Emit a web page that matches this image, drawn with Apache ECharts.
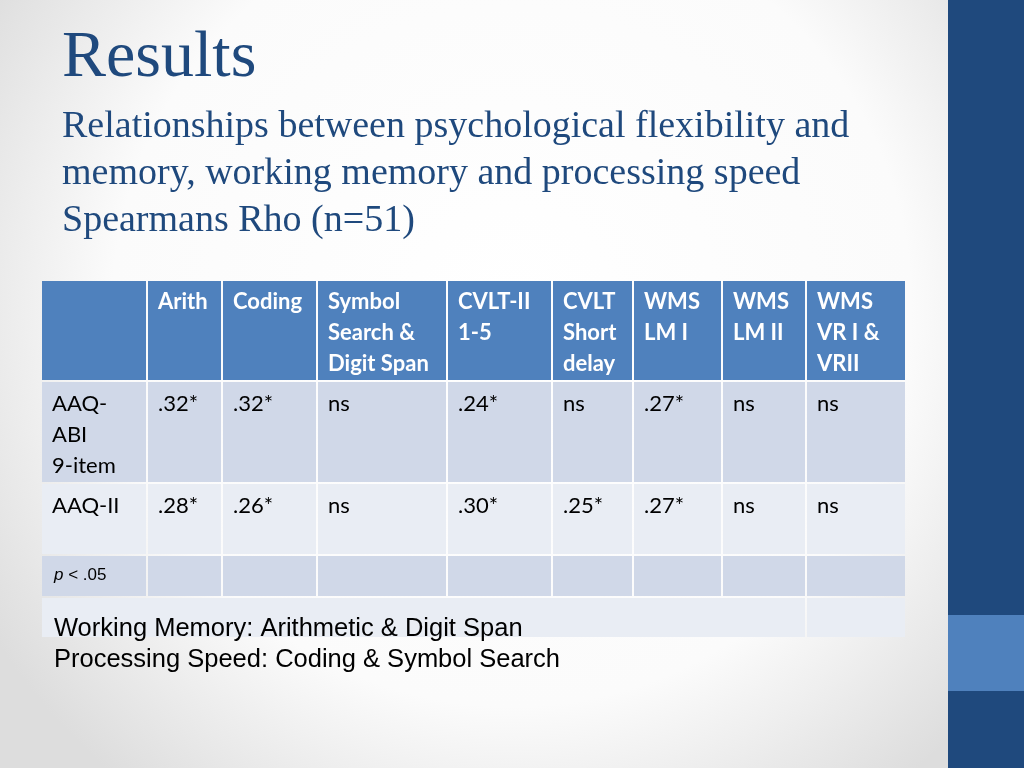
<!DOCTYPE html>
<html>
<head>
<meta charset="utf-8">
<script src="https://cdn.jsdelivr.net/npm/echarts@6/dist/echarts.min.js"></script>
<style>
  html, body { margin: 0; padding: 0; }
  #main { width: 1024px; height: 768px; }
</style>
</head>
<body>
<div id="main"></div>
<script>
// 表头 / 行 / 数值
var columns = ['', 'Arith', 'Coding', 'Symbol\nSearch &\nDigit Span', 'CVLT-II\n1-5', 'CVLT\nShort\ndelay', 'WMS\nLM I', 'WMS\nLM II', 'WMS\nVR I &\nVRII'];
var measures = ['AAQ-\nABI\n9-item', 'AAQ-II'];
var aaqAbi = ['.32*', '.32*', 'ns', '.24*', 'ns', '.27*', 'ns', 'ns'];
var aaqII = ['.28*', '.26*', 'ns', '.30*', '.25*', '.27*', 'ns', 'ns'];
var notes = ['Working Memory: Arithmetic & Digit Span', 'Processing Speed: Coding & Symbol Search'];

// 表格布局（列边界 / 行边界）
var colEdges = [0, 106, 181, 276, 406, 511, 592, 681, 765, 865];
var rowEdges = [0, 101, 203, 275, 317, 358];
var rowFill = ['#4F81BD', '#D0D8E8', '#E9EDF4', '#D0D8E8', '#E9EDF4'];

// 单元格列表: [col, row, span, text]
var cells = [];
columns.forEach(function (t, c) { cells.push([c, 0, 1, t]); });
[aaqAbi, aaqII].forEach(function (vals, i) {
    cells.push([0, i + 1, 1, measures[i]]);
    vals.forEach(function (v, c) { cells.push([c + 1, i + 1, 1, v]); });
});
cells.push([0, 3, 1, 'foot']);
for (var c = 1; c < 9; c++) cells.push([c, 3, 1, '']);
cells.push([0, 4, 8, '']);
cells.push([8, 4, 1, '']);

var chart = echarts.init(document.getElementById('main'));

function renderCell(params, api) {
    var cell = cells[params.dataIndex];
    var col = cell[0], row = cell[1], span = cell[2], text = cell[3];
    var p1 = api.coord([colEdges[col], rowEdges[row]]);
    var p2 = api.coord([colEdges[col + span], rowEdges[row + 1]]);
    var children = [{
        type: 'rect',
        shape: { x: p1[0] + 1, y: p1[1] + 1, width: p2[0] - p1[0] - 2, height: p2[1] - p1[1] - 2 },
        style: { fill: rowFill[row] }
    }];
    if (text === 'foot') {
        children.push({
            type: 'text',
            x: p1[0] + 13, y: p1[1] + 12,
            style: {
                text: '{i|p} < .05',
                rich: { i: { fontStyle: 'italic', fontFamily: 'Liberation Sans', fontSize: 17, fill: '#000' } },
                fontFamily: 'Liberation Sans', fontSize: 17, fill: '#000',
                verticalAlign: 'top'
            }
        });
    } else if (text) {
        children.push({
            type: 'text',
            x: p1[0] + 11, y: p1[1] + (row === 0 ? 6 : 7),
            style: {
                text: text,
                fontFamily: 'Lato', fontSize: 22,
                fontWeight: row === 0 ? 'bold' : 'normal',
                fill: row === 0 ? '#FFFFFF' : '#000000',
                lineHeight: 31,
                verticalAlign: 'top'
            }
        });
    }
    return { type: 'group', children: children };
}

var option = {
    backgroundColor: {
        type: 'radial', x: 0.5, y: 0.4, r: 0.8,
        colorStops: [
            { offset: 0, color: '#FFFFFF' },
            { offset: 0.65, color: '#FBFBFB' },
            { offset: 1, color: '#DDDDDD' }
        ]
    },
    animation: false,
    grid: { left: 41, top: 280, width: 865, height: 358 },
    xAxis: { type: 'value', min: 0, max: 865, show: false },
    yAxis: { type: 'value', min: 0, max: 358, inverse: true, show: false },
    series: [{
        type: 'custom',
        renderItem: renderCell,
        data: cells.map(function (d) { return [colEdges[d[0]], rowEdges[d[1]]]; }),
        silent: true
    }],
    graphic: [
        { type: 'rect', z: 100, shape: { x: 948, y: 0, width: 76, height: 768 }, style: { fill: '#1F497D' } },
        { type: 'rect', z: 101, shape: { x: 948, y: 615, width: 76, height: 76 }, style: { fill: '#4F81BD' } },
        {
            type: 'text', left: 62, top: 26, z: 100,
            style: { text: 'Results', fontFamily: 'Liberation Serif', fontSize: 66, fill: '#1F497D' }
        },
        {
            type: 'text', left: 62, top: 104, z: 100,
            style: {
                text: 'Relationships between psychological flexibility and\nmemory, working memory and processing speed\nSpearmans Rho (n=51)',
                fontFamily: 'Liberation Serif', fontSize: 38, lineHeight: 47, fill: '#1F497D'
            }
        },
        {
            type: 'text', left: 54, top: 613, z: 100,
            style: {
                text: notes.join('\n'),
                fontFamily: 'Liberation Sans', fontSize: 25.5, lineHeight: 31, fill: '#000000'
            }
        }
    ]
};

chart.setOption(option);
</script>
</body>
</html>
